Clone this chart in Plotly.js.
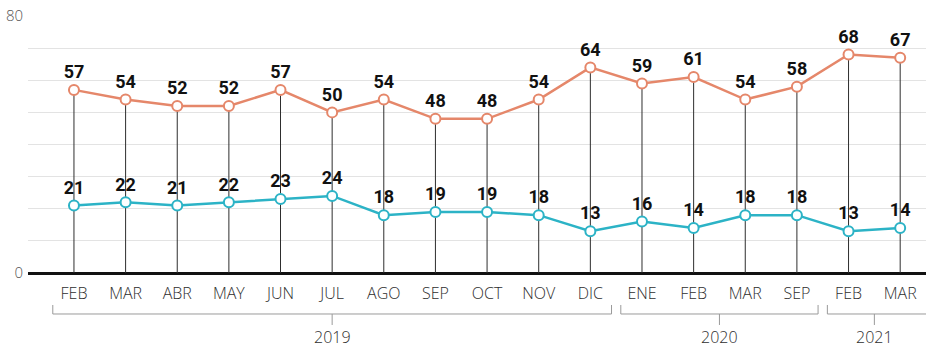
<!DOCTYPE html>
<html>
<head>
<meta charset="utf-8">
<script src="https://cdn.plot.ly/plotly-3.0.1.min.js"></script>
<style>html,body{margin:0;padding:0;background:#fff;}#chart{width:926px;height:350px;}</style>
</head>
<body>
<div id="chart"></div>
<script>
const months = ["FEB","MAR","ABR","MAY","JUN","JUL","AGO","SEP","OCT","NOV","DIC","ENE","FEB","MAR","SEP","FEB","MAR"];
const orangeVals = [57,54,52,52,57,50,54,48,48,54,64,59,61,54,58,68,67];
const blueVals = [21,22,21,22,23,24,18,19,19,18,13,16,14,18,18,13,14];
const years = ["2019","2020","2021"];
const yearStart = [0,11,15];
const yearEnd = [10,14,16];
const yTicks = [0,10,20,30,40,50,60,70,80];
const yTickText = ["0","","","","","","","","80"];

const idx = months.map((_, i) => i);

// vertical stems from 0 to the orange value
const stemX = [], stemY = [];
idx.forEach(i => { stemX.push(i, i, null); stemY.push(0, orangeVals[i], null); });

const labelFont = {family: "Roboto, 'DejaVu Sans', sans-serif", size: 18, color: "#111", weight: 700};
const thinFont = {family: "'Open Sans', sans-serif", size: 16, color: "#2e2e2e", weight: 300};

const traces = [
  {x: stemX, y: stemY, mode: "lines", line: {color: "#2e2e2e", width: 1}, hoverinfo: "skip", showlegend: false},
  {x: idx, y: orangeVals, mode: "lines+markers+text", text: orangeVals.map(String), textposition: "top center",
   textfont: labelFont, line: {color: "#E5876A", width: 2.5},
   marker: {size: 10, color: "#fff", line: {color: "#E5876A", width: 2}}, showlegend: false, cliponaxis: false},
  {x: idx, y: blueVals, mode: "lines+markers+text", text: blueVals.map(String), textposition: "top center",
   textfont: labelFont, line: {color: "#2CB3C6", width: 2.5},
   marker: {size: 10, color: "#fff", line: {color: "#2CB3C6", width: 2}}, showlegend: false, cliponaxis: false}
];

const shapes = [];
const annotations = [];
const bracketY = -0.1595, bracketTop = -0.1245, bracketBottom = -0.2023;
const lineStyle = {color: "#9a9a9a", width: 1};
years.forEach((yr, k) => {
  const x0 = yearStart[k] - 0.41;
  const x1 = yearEnd[k] + (k === 2 ? 0.5 : 0.41);
  const xc = (yearStart[k] + yearEnd[k]) / 2;
  shapes.push({type: "line", xref: "x", yref: "paper", x0: x0, x1: x1, y0: bracketY, y1: bracketY, line: lineStyle});
  shapes.push({type: "line", xref: "x", yref: "paper", x0: x0, x1: x0, y0: bracketY, y1: bracketTop, line: lineStyle});
  if (k !== 2) shapes.push({type: "line", xref: "x", yref: "paper", x0: x1, x1: x1, y0: bracketY, y1: bracketTop, line: lineStyle});
  shapes.push({type: "line", xref: "x", yref: "paper", x0: xc, x1: xc, y0: bracketY, y1: bracketBottom, line: lineStyle});
  annotations.push({x: xc, y: -0.249, xref: "x", yref: "paper", text: yr, showarrow: false,
    font: thinFont, yanchor: "middle"});
});

const layout = {
  width: 926, height: 350,
  margin: {l: 28, r: 0, t: 16, b: 77},
  paper_bgcolor: "#fff", plot_bgcolor: "#fff",
  xaxis: {range: [-0.89, 16.5], tickvals: idx, ticktext: months, showgrid: false, zeroline: false,
    showline: false, ticks: "", ticklabelstandoff: 9, tickfont: thinFont},
  yaxis: {range: [0, 80], tickvals: yTicks, ticktext: yTickText, showgrid: true, gridcolor: "#e3e3e3", gridwidth: 1,
    zeroline: true, zerolinecolor: "#111", zerolinewidth: 3, showline: false, ticks: "", ticklabelstandoff: 4,
    tickfont: {family: "'Open Sans', sans-serif", size: 15, color: "#555", weight: 300}},
  shapes: shapes, annotations: annotations, showlegend: false
};

Plotly.newPlot("chart", traces, layout, {staticPlot: true, displayModeBar: false});
</script>
</body>
</html>
